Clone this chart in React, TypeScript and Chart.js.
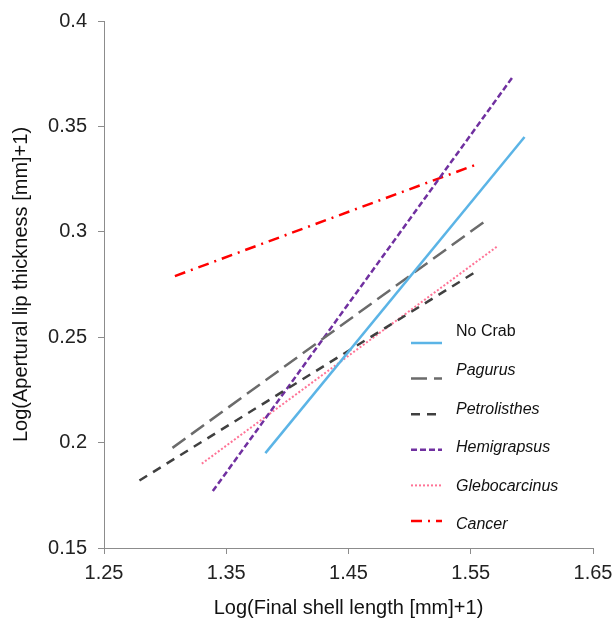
import React, { useEffect, useRef } from "react";
import { Chart, registerables } from "chart.js";

Chart.register(...registerables);

const seriesNames = ["No Crab", "Pagurus", "Petrolisthes", "Hemigrapsus", "Glebocarcinus", "Cancer"];
const seriesItalic = [false, true, true, true, true, true];

const noCrabX = [1.382, 1.594];
const noCrabY = [0.195, 0.345];
const pagurusX = [1.306, 1.564];
const pagurusY = [0.1975, 0.306];
const petrolisthesX = [1.279, 1.554];
const petrolisthesY = [0.182, 0.281];
const hemigrapsusX = [1.339, 1.585];
const hemigrapsusY = [0.177, 0.374];
const glebocarcinusX = [1.330, 1.5715];
const glebocarcinusY = [0.190, 0.293];
const cancerX = [1.308, 1.555];
const cancerY = [0.279, 0.332];

const xTicks = [1.25, 1.35, 1.45, 1.55, 1.65];
const xTickLabels = ["1.25", "1.35", "1.45", "1.55", "1.65"];
const yTicks = [0.15, 0.2, 0.25, 0.3, 0.35, 0.4];
const yTickLabels = ["0.15", "0.2", "0.25", "0.3", "0.35", "0.4"];

const seriesX = [noCrabX, pagurusX, petrolisthesX, hemigrapsusX, glebocarcinusX, cancerX];
const seriesY = [noCrabY, pagurusY, petrolisthesY, hemigrapsusY, glebocarcinusY, cancerY];

const colors = ["#5BB4E6", "#6B6B6B", "#404040", "#7030A0", "#FF7396", "#FF0000"];
const dashes: number[][] = [[], [16, 7], [9, 7], [6, 3], [2, 2], [11, 6, 2, 6]];
const widths = [2.5, 2.5, 2.5, 2.5, 2, 2.5];

const FONT = "'Liberation Sans', Arial, sans-serif";

const legendPlugin = {
  id: "customLegend",
  afterDraw(chart: any) {
    const ctx = chart.ctx;
    ctx.save();
    seriesNames.forEach((name, i) => {
      const ly = 343 + i * 35.6;
      const ty = 332 + i * 38.6;
      ctx.beginPath();
      ctx.strokeStyle = colors[i];
      ctx.lineWidth = widths[i];
      ctx.setLineDash(dashes[i]);
      ctx.moveTo(411, ly);
      ctx.lineTo(442, ly);
      ctx.stroke();
      ctx.setLineDash([]);
      ctx.fillStyle = "#111";
      ctx.font = (seriesItalic[i] ? "italic " : "") + "16px " + FONT;
      ctx.textAlign = "left";
      ctx.textBaseline = "middle";
      ctx.fillText(name, 456, ty);
    });
    ctx.restore();
  },
};

export default function App() {
  const ref = useRef<HTMLCanvasElement | null>(null);
  useEffect(() => {
    if (!ref.current) return;
    const chart = new Chart(ref.current, {
      type: "scatter",
      data: {
        datasets: seriesNames.map((name, i) => ({
          label: name,
          data: seriesX[i].map((x, j) => ({ x, y: seriesY[i][j] })),
          showLine: true,
          borderColor: colors[i],
          backgroundColor: colors[i],
          borderWidth: widths[i],
          borderDash: dashes[i],
          pointRadius: 0,
          fill: false,
        })),
      },
      options: {
        animation: false,
        responsive: false,
        layout: { padding: { left: 0, top: 21, right: 23, bottom: 0 } },
        plugins: { legend: { display: false }, tooltip: { enabled: false } },
        scales: {
          x: {
            type: "linear",
            min: 1.25,
            max: 1.65,
            afterBuildTicks: (s: any) => {
              s.ticks = xTicks.map((v) => ({ value: v }));
            },
            afterFit: (s: any) => {
              s.height = 72;
              s.paddingLeft = 0;
              s.paddingRight = 0;
            },
            ticks: {
              callback: (v: any) => xTickLabels[xTicks.findIndex((t) => Math.abs(t - v) < 1e-9)] ?? "",
              font: { family: FONT, size: 20 },
              color: "#222",
              padding: 7,
              maxRotation: 0,
            },
            grid: { drawOnChartArea: false, drawTicks: true, tickLength: 6, color: "#8c8c8c" },
            border: { display: true, color: "#8c8c8c", width: 1 },
            title: {
              display: true,
              text: "Log(Final shell length [mm]+1)",
              font: { family: FONT, size: 20 },
              color: "#111",
              padding: { top: 0, bottom: 0 },
            },
          },
          y: {
            type: "linear",
            min: 0.15,
            max: 0.4,
            afterBuildTicks: (s: any) => {
              s.ticks = yTicks.map((v) => ({ value: v }));
            },
            afterFit: (s: any) => {
              s.width = 104;
              s.paddingTop = 0;
              s.paddingBottom = 0;
            },
            ticks: {
              callback: (v: any) => yTickLabels[yTicks.findIndex((t) => Math.abs(t - v) < 1e-9)] ?? "",
              font: { family: FONT, size: 20 },
              color: "#222",
              padding: 11,
            },
            grid: { drawOnChartArea: false, drawTicks: true, tickLength: 6, color: "#8c8c8c" },
            border: { display: true, color: "#8c8c8c", width: 1 },
            title: {
              display: true,
              text: "Log(Apertural lip thickness [mm]+1)",
              font: { family: FONT, size: 20 },
              color: "#111",
              padding: { top: 9, bottom: 0 },
            },
          },
        },
      },
      plugins: [legendPlugin],
    });
    return () => chart.destroy();
  }, []);
  return (
    <div style={{ position: "fixed", left: 0, top: 0, width: 616, height: 620, background: "#fff" }}>
      <canvas ref={ref} width={616} height={620} style={{ display: "block" }} />
    </div>
  );
}
